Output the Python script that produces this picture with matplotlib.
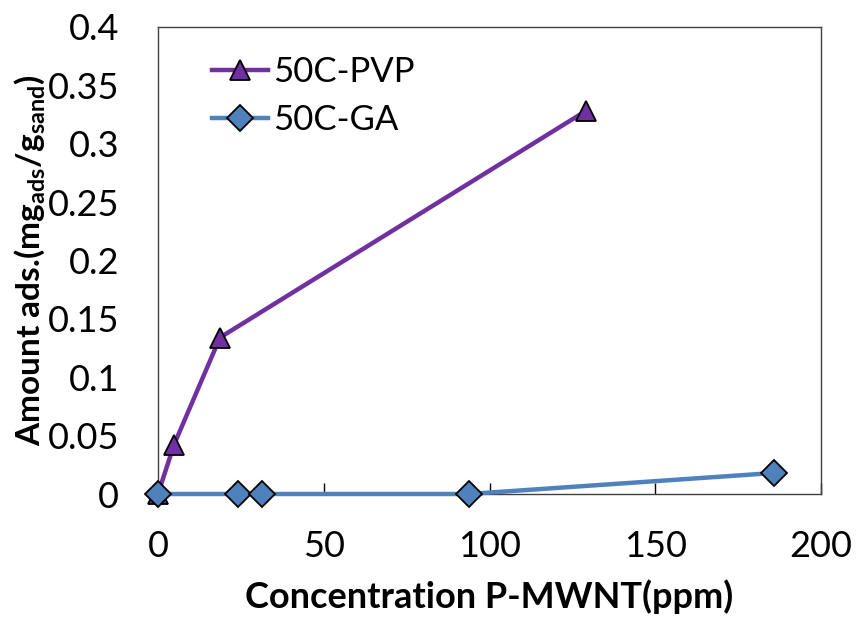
import matplotlib
matplotlib.use("Agg")
import matplotlib.pyplot as plt

plt.rcParams['font.family'] = ['Lato', 'DejaVu Sans']
plt.rcParams['mathtext.fontset'] = 'custom'
plt.rcParams['mathtext.rm'] = 'Lato'
plt.rcParams['mathtext.bf'] = 'Lato:bold'

pvp_x = [0, 4.8, 18.7, 129]
pvp_y = [0, 0.042, 0.134, 0.328]
ga_x = [0, 24.2, 31.4, 93.7, 185.8]
ga_y = [0, 0, 0, 0, 0.018]
xticks = [0, 50, 100, 150, 200]
yticks = [0, 0.05, 0.1, 0.15, 0.2, 0.25, 0.3, 0.35, 0.4]
ytick_labels = ['0', '0.05', '0.1', '0.15', '0.2', '0.25', '0.3', '0.35', '0.4']

fig = plt.figure(figsize=(8.57, 6.19), dpi=100)
ax = fig.add_axes([158/857, 1-494/619, (821-158)/857, (494-27)/619])

ax.plot(pvp_x, pvp_y, color='#7030A0', lw=3.2, marker='^', ms=15,
        markerfacecolor='#7030A0', markeredgecolor='black', markeredgewidth=1.3,
        label='50C-PVP', clip_on=False, zorder=3)
ax.plot(ga_x, ga_y, color='#4F81BD', lw=3.2, marker='D', ms=13,
        markerfacecolor='#4F81BD', markeredgecolor='black', markeredgewidth=1.3,
        label='50C-GA', clip_on=False, zorder=4)

ax.set_xlim(0, 200)
ax.set_ylim(0, 0.4)
ax.set_xticks(xticks)
ax.set_xticklabels([str(t) for t in xticks])
ax.set_yticks(yticks)
ax.set_yticklabels(ytick_labels)
ax.tick_params(axis='x', direction='in', length=8, width=1, labelsize=26, pad=26)
ax.tick_params(axis='y', length=0, labelsize=26, pad=28)
for s in ax.spines.values():
    s.set_linewidth(1)
    s.set_color('#404040')

ax.set_xlabel('Concentration P-MWNT(ppm)', fontsize=26, fontweight='bold', labelpad=12)
ax.set_ylabel(r'Amount ads.(mg$_{\mathregular{ads}}$/g$_{\mathregular{sand}}$)', fontsize=24,
              fontweight='bold', labelpad=0)

leg = ax.legend(loc='upper left', bbox_to_anchor=(0.05, 0.982), frameon=False,
                fontsize=25, handlelength=1.6, handletextpad=0.15, labelspacing=0.45,
                borderaxespad=0.2)

fig.savefig('out.png', dpi=100)
